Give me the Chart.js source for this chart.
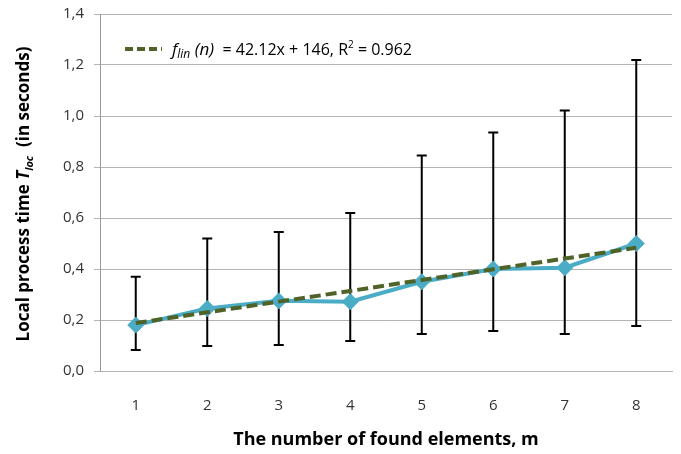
<!DOCTYPE html>
<html>
<head>
<meta charset="utf-8">
<script src="https://cdn.jsdelivr.net/npm/chart.js@4.4.1/dist/chart.umd.min.js"></script>
<style>
body { margin: 0; background: #fff; }
</style>
</head>
<body>
<canvas id="chart" width="681" height="454"></canvas>
<script>
// number of found elements (categories)
var elements = ['1', '2', '3', '4', '5', '6', '7', '8'];
// mean local process time, seconds
var meanTime = [0.18, 0.245, 0.275, 0.272, 0.35, 0.40, 0.405, 0.50];
// error bar ends
var errLow = [0.082, 0.098, 0.102, 0.118, 0.145, 0.157, 0.145, 0.176];
var errHigh = [0.37, 0.52, 0.545, 0.62, 0.845, 0.935, 1.022, 1.22];
// linear trend
var trendTime = [0.188, 0.230, 0.272, 0.314, 0.357, 0.399, 0.441, 0.483];

var FONT = '"Open Sans", "Noto Sans", sans-serif';

// draws a list of [text, font, dy] pieces one after another
function drawPieces(ctx, pieces, x, y) {
    var cx = x;
    pieces.forEach(function (p) {
        ctx.font = p[1];
        ctx.fillText(p[0], cx, y + (p[2] || 0));
        cx += ctx.measureText(p[0]).width;
    });
}

function piecesWidth(ctx, pieces) {
    var w = 0;
    pieces.forEach(function (p) {
        ctx.font = p[1];
        w += ctx.measureText(p[0]).width;
    });
    return w;
}

var extras = {
    id: 'extras',
    beforeDatasetsDraw: function (chart) {
        var ctx = chart.ctx;
        var xs = chart.scales.x, ys = chart.scales.y;
        ctx.save();
        ctx.strokeStyle = '#000';
        ctx.lineWidth = 2;
        for (var i = 0; i < elements.length; i++) {
            var x = xs.getPixelForValue(i);
            var y1 = ys.getPixelForValue(errLow[i]);
            var y2 = ys.getPixelForValue(errHigh[i]);
            ctx.beginPath();
            ctx.moveTo(x, y1); ctx.lineTo(x, y2);
            ctx.moveTo(x - 5, y1); ctx.lineTo(x + 5, y1);
            ctx.moveTo(x - 5, y2); ctx.lineTo(x + 5, y2);
            ctx.stroke();
        }
        ctx.restore();
    },
    afterDraw: function (chart) {
        var ctx = chart.ctx;
        ctx.save();

        // legend for the trend line
        ctx.strokeStyle = '#4F6228';
        ctx.lineWidth = 4;
        ctx.setLineDash([8, 4]);
        ctx.beginPath();
        ctx.moveTo(125, 49); ctx.lineTo(162, 49);
        ctx.stroke();
        ctx.setLineDash([]);
        ctx.fillStyle = '#000';
        ctx.textBaseline = 'alphabetic';
        drawPieces(ctx, [
            ['f', 'italic 17px ' + FONT, 0],
            ['lin', 'italic 12px ' + FONT, 3],
            [' (n)', 'italic 17px ' + FONT, 0],
            ['  = 42.12x + 146, R', '16px ' + FONT, 0],
            ['2', '10px ' + FONT, -7],
            [' = 0.962', '16px ' + FONT, 0]
        ], 172, 55);

        // y axis title
        var title = [
            ['Local process time ', 'bold 17px ' + FONT, 0],
            ['T', 'bold italic 17px ' + FONT, 0],
            ['loc', 'bold italic 11px ' + FONT, 4],
            ['  (in seconds)', 'bold 17px ' + FONT, 0]
        ];
        ctx.translate(29, 194);
        ctx.rotate(-Math.PI / 2);
        drawPieces(ctx, title, -piecesWidth(ctx, title) / 2, 0);
        ctx.restore();
    }
};

new Chart(document.getElementById('chart'), {
    type: 'line',
    data: {
        labels: elements,
        datasets: [{
            label: 'trend',
            data: trendTime,
            borderColor: '#4F6228',
            borderWidth: 4,
            borderDash: [11, 5],
            pointRadius: 0,
            fill: false
        }, {
            label: 'Local process time',
            data: meanTime,
            borderColor: '#4BACC6',
            backgroundColor: '#4BACC6',
            borderWidth: 4,
            pointStyle: 'rectRot',
            pointRadius: 8,
            pointBorderWidth: 1,
            pointBackgroundColor: '#4BACC6',
            pointBorderColor: '#4BACC6',
            fill: false
        }]
    },
    options: {
        responsive: false,
        animation: false,
        devicePixelRatio: 1,
        layout: { padding: { left: 0, right: 9, top: 14, bottom: 0 } },
        plugins: {
            legend: { display: false },
            tooltip: { enabled: false }
        },
        scales: {
            x: {
                offset: true,
                grid: { display: false },
                border: { display: true, color: '#b3b3b3' },
                ticks: { font: { family: FONT, size: 15 }, color: '#333333', padding: 18 },
                title: {
                    display: true,
                    text: 'The number of found elements, m',
                    font: { family: FONT, size: 18, weight: 'bold' },
                    color: '#000',
                    padding: { top: 0, bottom: 3 }
                },
                afterFit: function (scale) { scale.height = 83; }
            },
            y: {
                min: 0,
                max: 1.4,
                grid: { color: '#b3b3b3', tickLength: 6 },
                border: { color: '#999999' },
                ticks: {
                    stepSize: 0.2,
                    font: { family: FONT, size: 15 },
                    color: '#333333',
                    padding: 10,
                    callback: function (v) { return v.toFixed(1).replace('.', ','); }
                },
                afterFit: function (scale) {
                    scale.width = 100;
                    scale.paddingTop = 0;
                    scale.paddingBottom = 0;
                }
            }
        }
    },
    plugins: [extras]
});
</script>
</body>
</html>
